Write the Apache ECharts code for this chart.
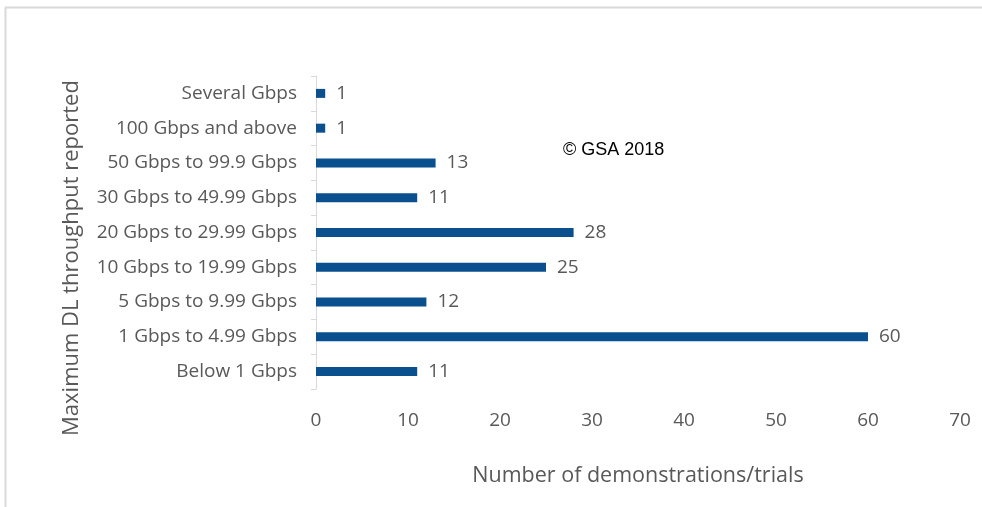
<!DOCTYPE html>
<html>
<head>
<meta charset="utf-8">
<script src="https://cdn.jsdelivr.net/npm/echarts@6/dist/echarts.min.js"></script>
<style>
  html, body { margin: 0; padding: 0; background: #ffffff; }
  #chart { width: 982px; height: 507px; }
</style>
</head>
<body>
<div id="chart"></div>
<script>
// Throughput bands, listed bottom to top as drawn on the category axis
const categories = [
  'Below 1 Gbps',
  '1 Gbps to 4.99 Gbps',
  '5 Gbps to 9.99 Gbps',
  '10 Gbps to 19.99 Gbps',
  '20 Gbps to 29.99 Gbps',
  '30 Gbps to 49.99 Gbps',
  '50 Gbps to 99.9 Gbps',
  '100 Gbps and above',
  'Several Gbps'
];
// Number of demonstrations/trials per band
const counts = [11, 60, 12, 25, 28, 11, 13, 1, 1];
const xTicks = { min: 0, max: 70, interval: 10 };
const xTitle = 'Number of demonstrations/trials';
const yTitle = 'Maximum DL throughput reported';

const chart = echarts.init(document.getElementById('chart'), null, { renderer: 'canvas' });
const font = '"Open Sans", "Noto Sans", sans-serif';
const grey = '#595959';

chart.setOption({
  backgroundColor: '#ffffff',
  animation: false,
  graphic: [
    {
      type: 'polyline',
      shape: { points: [[5.5, 507], [5.5, 7.5], [982, 7.5]] },
      style: { stroke: '#d9d9d9', lineWidth: 2, fill: null }
    },
    {
      type: 'text',
      left: 563,
      top: 141,
      style: {
        text: '\u00a9 GSA 2018',
        font: '18px "Liberation Sans", Arial, sans-serif',
        fill: '#000000'
      }
    },
    {
      // vertical title for the category axis
      type: 'text',
      x: 72,
      y: 258,
      rotation: Math.PI / 2,
      style: {
        text: yTitle,
        font: '22px ' + font,
        fill: grey,
        align: 'center',
        verticalAlign: 'middle'
      }
    }
  ],
  grid: { left: 316, right: 22, top: 76, height: 313, containLabel: false },
  xAxis: {
    type: 'value',
    min: xTicks.min,
    max: xTicks.max,
    interval: xTicks.interval,
    axisLine: { show: false },
    axisTick: { show: false },
    splitLine: { show: false },
    axisLabel: { color: grey, fontFamily: font, fontSize: 19, margin: 22 },
    name: xTitle,
    nameLocation: 'middle',
    nameGap: 76,
    nameTextStyle: { color: grey, fontFamily: font, fontSize: 21.5 }
  },
  yAxis: {
    type: 'category',
    data: categories,
    axisLine: { show: true, lineStyle: { color: '#d9d9d9', width: 1 } },
    axisTick: { show: true, length: 5, lineStyle: { color: '#d9d9d9' } },
    axisLabel: { color: grey, fontFamily: font, fontSize: 19, margin: 19 }
  },
  series: [{
    type: 'bar',
    data: counts,
    barWidth: 9,
    itemStyle: { color: '#0a4f8e' },
    label: {
      show: true,
      position: 'right',
      distance: 11,
      color: grey,
      fontFamily: font,
      fontSize: 19
    }
  }]
});
</script>
</body>
</html>
